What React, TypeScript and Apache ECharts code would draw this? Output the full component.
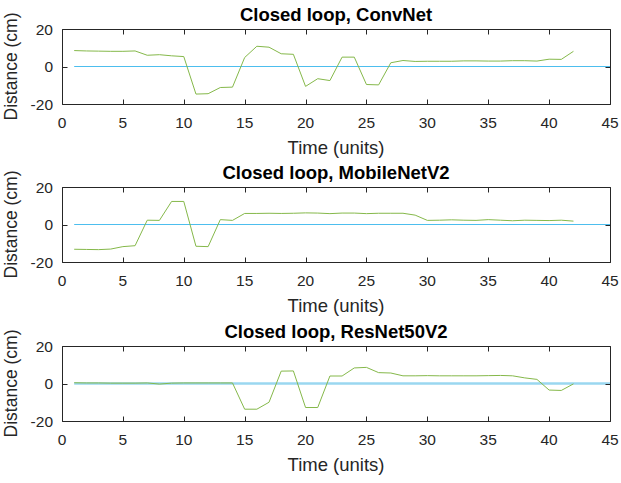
import React, { useEffect, useRef } from "react";
import * as echarts from "echarts";

// Time steps shared by all three runs
const timeSteps = [
  1, 2, 3, 4, 5, 6, 7, 8, 9, 10, 11, 12, 13, 14, 15, 16, 17, 18, 19, 20, 21,
  22, 23, 24, 25, 26, 27, 28, 29, 30, 31, 32, 33, 34, 35, 36, 37, 38, 39, 40,
  41, 42,
];

// Distance (cm) per model
const convNet = [
  8.5, 8.3, 8.2, 8.1, 8.1, 8.3, 6.0, 6.3, 5.7, 5.3, -14.7, -14.5, -11.2, -11.0,
  4.8, 10.8, 10.3, 6.8, 6.5, -10.6, -6.5, -7.5, 5.0, 5.0, -9.6, -9.8, 2.0, 3.2,
  2.7, 2.8, 2.8, 2.8, 3.0, 3.0, 2.9, 2.9, 3.1, 3.1, 2.9, 3.9, 3.8, 8.1,
];
const mobileNetV2 = [
  -13.2, -13.3, -13.4, -13.1, -11.8, -11.3, 2.3, 2.2, 12.3, 12.3, -11.6, -11.8,
  2.6, 2.2, 5.9, 5.9, 6.0, 5.9, 6.0, 6.2, 6.1, 5.8, 6.1, 6.1, 5.8, 6.0, 6.0,
  6.0, 5.0, 2.2, 2.3, 2.5, 2.3, 2.2, 2.6, 2.3, 2.0, 2.3, 2.2, 2.1, 2.3, 1.8,
];
const resNet50V2 = [
  0.4, 0.3, 0.3, 0.2, 0.2, 0.2, 0.3, -0.3, 0.2, 0.3, 0.3, 0.3, 0.3, 0.3, -13.7,
  -13.7, -10.0, 6.6, 6.7, -12.8, -12.8, 4.0, 4.0, 8.3, 8.6, 5.8, 5.6, 4.1, 4.1,
  4.2, 4.1, 4.1, 4.1, 4.1, 4.2, 4.3, 4.1, 3.0, 2.2, -3.5, -3.7, -0.2,
];

// Zero reference line
const referenceTime = [1, 45];
const referenceLevel = [0, 0];

// Tick values
const xTicks = [0, 5, 10, 15, 20, 25, 30, 35, 40, 45];
const yTicks = [-20, 0, 20];

const panelTitles = [
  "Closed loop, ConvNet",
  "Closed loop, MobileNetV2",
  "Closed loop, ResNet50V2",
];
const panelSeries = [convNet, mobileNetV2, resNet50V2];

const xMin = 0;
const xMax = 45;
const xStep = 5;
const yMin = -20;
const yMax = 20;
const yStep = 20;

const FONT = "'Liberation Sans', Arial, Helvetica, sans-serif";
const AXIS_COLOR = "#262626";
const GRID_LEFT = 62;
const GRID_WIDTH = 548;
const GRID_HEIGHT = 75;
const GRID_TOPS = [29, 187, 346];
const TICK_LEN = 5;

const crisp = (v: number) => Math.round(v) + 0.5;

// Box outline plus inward ticks on all four sides, placed with the grid's own scales
function renderFrame(_params: any, api: any) {
  const [l, b] = api.coord([xMin, yMin]);
  const [r, t] = api.coord([xMax, yMax]);
  const L = crisp(l);
  const R = crisp(r);
  const T = crisp(t);
  const B = crisp(b);
  const style = { stroke: AXIS_COLOR, lineWidth: 1, fill: "none" };
  const children: any[] = [
    { type: "line", shape: { x1: L, y1: T, x2: R, y2: T }, style },
    { type: "line", shape: { x1: R, y1: T, x2: R, y2: B }, style },
    { type: "line", shape: { x1: L, y1: B, x2: R, y2: B }, style },
    { type: "line", shape: { x1: L, y1: T, x2: L, y2: B }, style },
  ];
  xTicks.forEach((v) => {
    const px = crisp(api.coord([v, yMin])[0]);
    children.push({ type: "line", shape: { x1: px, y1: B, x2: px, y2: B - TICK_LEN }, style });
    children.push({ type: "line", shape: { x1: px, y1: T, x2: px, y2: T + TICK_LEN }, style });
  });
  yTicks.forEach((v) => {
    const py = crisp(api.coord([xMin, v])[1]);
    children.push({ type: "line", shape: { x1: L, y1: py, x2: L + TICK_LEN, y2: py }, style });
    children.push({ type: "line", shape: { x1: R, y1: py, x2: R - TICK_LEN, y2: py }, style });
  });
  return { type: "group", children };
}

export default function App() {
  const ref = useRef<HTMLDivElement>(null);

  useEffect(() => {
    if (!ref.current) return;
    const chart = echarts.init(ref.current, undefined, { renderer: "svg" });

    const grids = GRID_TOPS.map((top) => ({
      left: GRID_LEFT,
      top,
      width: GRID_WIDTH,
      height: GRID_HEIGHT,
      outerBoundsMode: "none",
      containLabel: false,
    }));

    const xAxes: any[] = [];
    const yAxes: any[] = [];
    const series: any[] = [];
    const titles: any[] = [];

    GRID_TOPS.forEach((top, i) => {
      xAxes.push({
        type: "value",
        gridIndex: i,
        position: "bottom",
        min: xMin,
        max: xMax,
        interval: xStep,
        axisLine: { show: false, onZero: false },
        axisTick: { show: false },
        splitLine: { show: false },
        axisLabel: {
          show: true,
          margin: 10,
          color: AXIS_COLOR,
          fontSize: 15.5,
          fontFamily: FONT,
          showMinLabel: true,
          showMaxLabel: true,
        },
        name: "Time (units)",
        nameLocation: "middle",
        nameGap: 34,
        nameTextStyle: { color: AXIS_COLOR, fontSize: 18.5, fontFamily: FONT },
      });
      yAxes.push({
        type: "value",
        gridIndex: i,
        position: "left",
        min: yMin,
        max: yMax,
        interval: yStep,
        axisLine: { show: false, onZero: false },
        axisTick: { show: false },
        splitLine: { show: false },
        axisLabel: {
          show: true,
          margin: 9,
          color: AXIS_COLOR,
          fontSize: 15.5,
          fontFamily: FONT,
          showMinLabel: true,
          showMaxLabel: true,
        },
        name: "Distance (cm)",
        nameLocation: "middle",
        nameGap: 40,
        nameTextStyle: { color: AXIS_COLOR, fontSize: 17.5, fontFamily: FONT },
      });

      const isLast = i === GRID_TOPS.length - 1;
      series.push({
        type: "line",
        xAxisIndex: i,
        yAxisIndex: i,
        data: referenceTime.map((t, k) => [t, referenceLevel[k]]),
        showSymbol: false,
        symbol: "none",
        lineStyle: {
          color: isLast ? "#9ad7f0" : "#4DBEEE",
          width: isLast ? 2.5 : 1,
        },
        silent: true,
        z: 2,
      });
      series.push({
        type: "line",
        xAxisIndex: i,
        yAxisIndex: i,
        data: timeSteps.map((t, k) => [t, panelSeries[i][k]]),
        showSymbol: false,
        symbol: "none",
        lineStyle: { color: "#85b84a", width: 1 },
        silent: true,
        z: 3,
      });
      series.push({
        type: "custom",
        xAxisIndex: i,
        yAxisIndex: i,
        data: [[xMin, yMin]],
        renderItem: renderFrame,
        clip: false,
        silent: true,
        z: 10,
      });

      titles.push({
        type: "text",
        x: GRID_LEFT + GRID_WIDTH / 2,
        y: top - 14.5,
        style: {
          text: panelTitles[i],
          textAlign: "center",
          textVerticalAlign: "middle",
          font: `bold 18.5px ${FONT}`,
          fill: "#000000",
        },
      });
    });

    chart.setOption({
      animation: false,
      backgroundColor: "#ffffff",
      grid: grids,
      xAxis: xAxes,
      yAxis: yAxes,
      series,
      graphic: titles,
    });

    return () => chart.dispose();
  }, []);

  return (
    <div
      ref={ref}
      style={{
        position: "fixed",
        left: 0,
        top: 0,
        width: 621,
        height: 483,
        background: "#ffffff",
      }}
    />
  );
}
